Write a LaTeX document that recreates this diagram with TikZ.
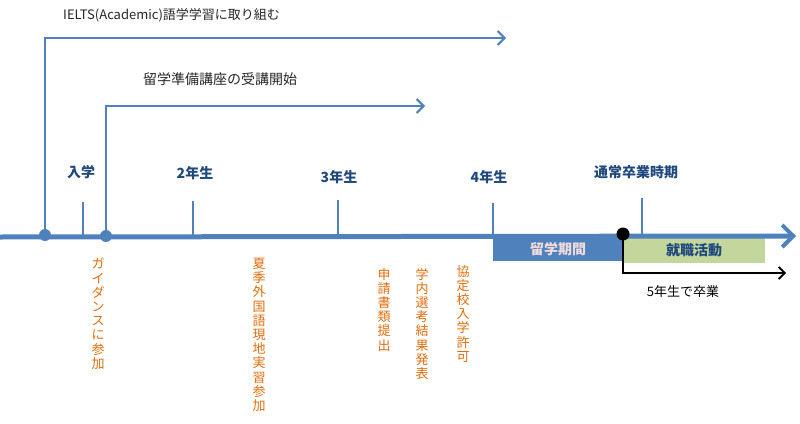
\documentclass[tikz,border=0pt]{standalone}
\usepackage{fontspec}
\setmainfont{Noto Sans CJK JP}
\usetikzlibrary{arrows.meta}
\definecolor{axisblue}{HTML}{4F81BD}
\definecolor{labblue}{HTML}{1F497D}
\definecolor{evorange}{HTML}{E36C09}
\definecolor{jobgreen}{HTML}{C3D69B}
\definecolor{studypink}{HTML}{F2DCDB}
\tikzset{
  axisline/.style={draw=axisblue,line width=5pt,-{Straight Barb[length=11pt,width=22pt,line width=4pt]}},
  flowline/.style={draw=axisblue,line width=2.2pt,-{Straight Barb[length=7pt,width=14pt,line width=2pt]}},
  tickline/.style={draw=axisblue,line width=2.5pt},
  bluedot/.style={circle,fill=axisblue,inner sep=0pt,minimum size=12pt},
  blackdot/.style={circle,fill=black,inner sep=0pt,minimum size=13pt},
  yearlab/.style={text=labblue,font=\bfseries\fontsize{14}{15}\selectfont,inner sep=0pt},
  toplab/.style={text=black!85,font=\fontsize{13}{14}\selectfont,inner sep=0pt},
  vlab/.style={text=evorange,font=\fontsize{13}{14.2}\selectfont,align=center,inner sep=0pt,anchor=north},
  blacklab/.style={text=black,font=\fontsize{13}{14}\selectfont,inner sep=0pt}
}
\begin{document}
\begin{tikzpicture}[x=1pt,y=-1pt]
\useasboundingbox (0,0) rectangle (800,423);
% boxes
\node[fill=axisblue,minimum width=130pt,minimum height=25pt,inner sep=0pt,anchor=north west,
  text=studypink,font=\bfseries\fontsize{14}{15}\selectfont] (study) at (493,236) {留学期間};
\node[fill=jobgreen,minimum width=142pt,minimum height=26pt,inner sep=0pt,anchor=north west,
  text=labblue,font=\bfseries\fontsize{14}{15}\selectfont] (job) at (623,237) {就職活動};
% axis
\coordinate (axs) at (0,237);
\coordinate (axe) at (796,236);
\draw[axisline] (axs) -- (axe);
% ticks
\foreach \n/\x/\t in {t1/83/202,t2/193/201,t3/338/200,t4/493/203,t5/642/198}{
  \coordinate (\n top) at (\x,\t);
  \coordinate (\n bot) at (\x,237);
  \draw[tickline] (\n top) -- (\n bot);
}
% dots
\node[bluedot] (d1) at (45,235) {};
\node[bluedot] (d2) at (106,236) {};
\node[blackdot] (d3) at (623,234) {};
% flow arrows
\coordinate (e1) at (506,38);
\coordinate (e2) at (425,106);
\coordinate (e3) at (786,273);
\draw[flowline] (d1.center) |- (e1);
\draw[flowline] (d2.center) |- (e2);
\draw[draw=black,line width=2pt,-{Straight Barb[length=6pt,width=12pt,line width=1.8pt]}] (d3.center) |- (e3);
% top labels
\node[toplab,anchor=west] (ielts) at (63,15) {IELTS(Academic)語学学習に取り組む};
\node[toplab,anchor=west,font=\fontsize{14}{15}\selectfont] (prep) at (143,79) {留学準備講座の受講開始};
% year labels
\node[yearlab] (l0) at (81,172) {入学};
\node[yearlab] (l2) at (195,173) {2年生};
\node[yearlab] (l3) at (339,177) {3年生};
\node[yearlab] (l4) at (489,177) {4年生};
\node[yearlab] (l5) at (636,172) {通常卒業時期};
% black label
\node[blacklab] (grad) at (683,292) {5年生で卒業};
% vertical orange labels
\node[vlab] (v1) at (98,258) {ガ\\イ\\ダ\\ン\\ス\\に\\参\\加};
\node[vlab] (v2) at (259,258) {夏\\季\\外\\国\\語\\現\\地\\実\\習\\参\\加};
\node[vlab] (v3) at (384,268) {申\\請\\書\\類\\提\\出};
\node[vlab] (v4) at (422,268) {学\\内\\選\\考\\結\\果\\発\\表};
\node[vlab] (v5) at (463,265) {協\\定\\校\\入\\学\\許\\可};
\end{tikzpicture}
\end{document}
